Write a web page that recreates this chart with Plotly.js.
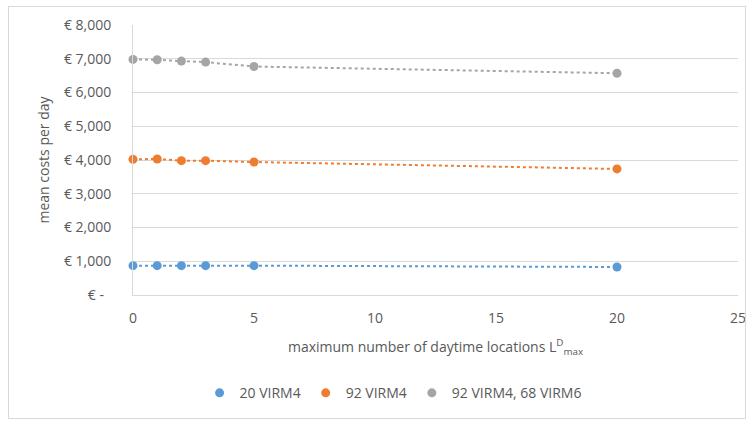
<!DOCTYPE html>
<html><head><meta charset="utf-8">
<script src="https://cdn.plot.ly/plotly-3.0.1.min.js"></script>
<style>
html,body{margin:0;padding:0;background:#fff;}
#wrap{position:relative;width:753px;height:421px;}
#chart{width:753px;height:421px;}
#frame{position:absolute;left:8px;top:6px;width:736px;height:411px;border:1px solid #d9d9d9;pointer-events:none;}
</style></head>
<body>
<div id="wrap"><div id="chart"></div><div id="frame"></div></div>
<script>
const xVals = [0, 1, 2, 3, 5, 20];
const seriesNames = ['20 VIRM4', '92 VIRM4', '92 VIRM4, 68 VIRM6'];
const s20VIRM4 = [870, 870, 870, 870, 870, 830];
const s92VIRM4 = [4020, 4030, 3980, 3980, 3940, 3735];
const s92VIRM4_68VIRM6 = [6980, 6970, 6930, 6900, 6770, 6570];
const colors = ['#5B9BD5', '#ED7D31', '#A5A5A5'];
const yTickVals = [0, 1000, 2000, 3000, 4000, 5000, 6000, 7000, 8000];
const yTickText = ['€ -  ', '€ 1,000', '€ 2,000', '€ 3,000', '€ 4,000', '€ 5,000', '€ 6,000', '€ 7,000', '€ 8,000'];
const xTickVals = [0, 5, 10, 15, 20, 25];

const allSeries = [s20VIRM4, s92VIRM4, s92VIRM4_68VIRM6];
const traces = [];
allSeries.forEach((ys, i) => {
  traces.push({x: xVals, y: ys, mode: 'lines', type: 'scatter', showlegend: false,
    line: {color: colors[i], width: 2, dash: 'dot'}, hoverinfo: 'skip', cliponaxis: false});
});
allSeries.forEach((ys, i) => {
  traces.push({x: xVals, y: ys, mode: 'markers', type: 'scatter', name: seriesNames[i],
    marker: {color: colors[i], size: 9}, cliponaxis: false});
});

const font = "'Open Sans', sans-serif";
const layout = {
  width: 753, height: 421,
  margin: {l: 133, r: 15, t: 25, b: 126, autoexpand: false},
  paper_bgcolor: '#fff', plot_bgcolor: '#fff',
  font: {family: font, size: 14, color: '#595959'},
  showlegend: true,
  legend: {orientation: 'h', xref: 'container', x: 0.522, xanchor: 'center', yref: 'container', y: 0.066, yanchor: 'middle',
    font: {size: 14, color: '#595959'}, itemwidth: 30, traceorder: 'normal'},
  xaxis: {range: [0, 25], tickvals: xTickVals, showgrid: false, zeroline: false,
    showline: true, linecolor: '#d9d9d9', linewidth: 1, ticks: '', ticklabelstandoff: 10,
    tickfont: {size: 14, color: '#595959'},
    title: {text: 'maximum number of daytime locations L<sup>D</sup><sub>max</sub>', font: {size: 14, color: '#595959'}, standoff: 16}},
  yaxis: {range: [0, 8000], tickvals: yTickVals, ticktext: yTickText, showgrid: true,
    gridcolor: '#d9d9d9', gridwidth: 1, zeroline: false, showline: true, linecolor: '#d9d9d9',
    ticks: '', ticklabelstandoff: 18, tickfont: {size: 14, color: '#595959'},
    title: {text: 'mean costs per day', font: {size: 14, color: '#595959'}, standoff: 11}}
};
Plotly.newPlot('chart', traces, layout, {displayModeBar: false, staticPlot: true});
</script>
</body></html>
